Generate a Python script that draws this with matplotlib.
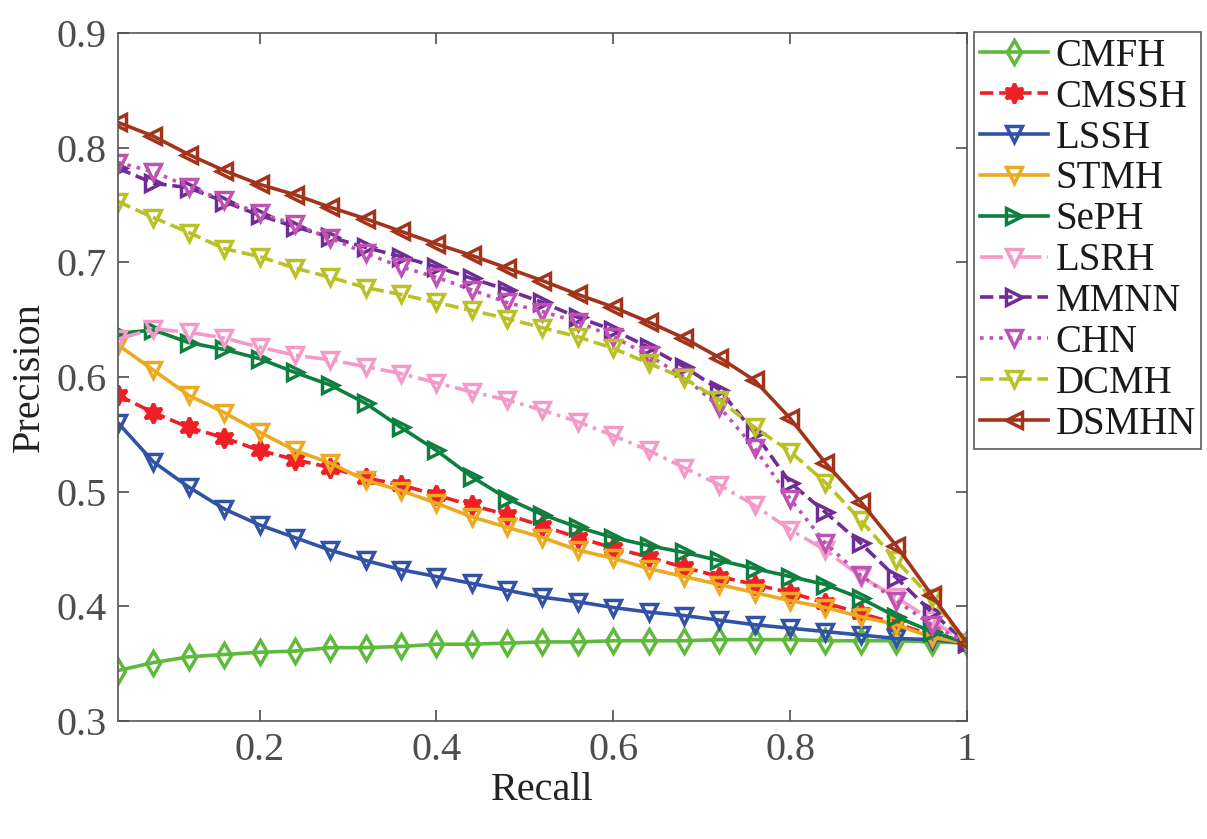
import matplotlib
matplotlib.use("Agg")
import matplotlib.pyplot as plt

recall = [0.04, 0.08, 0.12, 0.16, 0.20, 0.24, 0.28, 0.32, 0.36, 0.40, 0.44, 0.48, 0.52,
          0.56, 0.60, 0.64, 0.68, 0.72, 0.76, 0.80, 0.84, 0.88, 0.92, 0.96, 1.00]

cmfh = [0.344, 0.351, 0.356, 0.358, 0.360, 0.361, 0.364, 0.364, 0.365, 0.367, 0.367, 0.368, 0.369,
        0.369, 0.370, 0.370, 0.370, 0.371, 0.371, 0.371, 0.370, 0.370, 0.370, 0.369, 0.368]
cmssh = [0.584, 0.569, 0.556, 0.547, 0.536, 0.528, 0.521, 0.512, 0.506, 0.497, 0.488, 0.480, 0.470,
         0.460, 0.451, 0.443, 0.434, 0.426, 0.419, 0.412, 0.403, 0.394, 0.385, 0.375, 0.368]
lssh = [0.560, 0.526, 0.504, 0.485, 0.471, 0.460, 0.449, 0.440, 0.432, 0.426, 0.420, 0.414, 0.408,
        0.404, 0.399, 0.395, 0.392, 0.388, 0.384, 0.381, 0.378, 0.375, 0.372, 0.371, 0.368]
stmh = [0.628, 0.606, 0.584, 0.569, 0.552, 0.536, 0.525, 0.510, 0.501, 0.490, 0.478, 0.469, 0.460,
        0.449, 0.442, 0.433, 0.426, 0.419, 0.412, 0.405, 0.399, 0.391, 0.384, 0.373, 0.368]
seph = [0.638, 0.641, 0.630, 0.624, 0.616, 0.604, 0.593, 0.577, 0.556, 0.536, 0.513, 0.494, 0.480,
        0.469, 0.460, 0.453, 0.447, 0.440, 0.433, 0.426, 0.419, 0.407, 0.391, 0.378, 0.368]
lsrh = [0.633, 0.642, 0.639, 0.634, 0.626, 0.619, 0.615, 0.609, 0.603, 0.595, 0.587, 0.580, 0.571,
        0.561, 0.549, 0.536, 0.521, 0.506, 0.488, 0.467, 0.449, 0.426, 0.408, 0.388, 0.368]
mmnn = [0.782, 0.769, 0.765, 0.753, 0.741, 0.731, 0.722, 0.713, 0.705, 0.696, 0.686, 0.676, 0.665,
        0.652, 0.641, 0.626, 0.609, 0.589, 0.551, 0.508, 0.482, 0.455, 0.425, 0.395, 0.368]
chn = [0.787, 0.779, 0.766, 0.754, 0.743, 0.733, 0.721, 0.708, 0.696, 0.687, 0.676, 0.665, 0.657,
       0.648, 0.635, 0.619, 0.600, 0.574, 0.538, 0.494, 0.455, 0.427, 0.405, 0.384, 0.368]
dcmh = [0.753, 0.739, 0.726, 0.712, 0.705, 0.695, 0.687, 0.678, 0.672, 0.665, 0.658, 0.651, 0.643,
        0.635, 0.625, 0.612, 0.599, 0.580, 0.556, 0.535, 0.508, 0.475, 0.440, 0.407, 0.368]
dsmhn = [0.822, 0.810, 0.794, 0.780, 0.768, 0.759, 0.748, 0.738, 0.727, 0.716, 0.706, 0.695, 0.684,
         0.672, 0.661, 0.648, 0.634, 0.617, 0.597, 0.564, 0.525, 0.491, 0.453, 0.410, 0.368]

names = ["CMFH", "CMSSH", "LSSH", "STMH", "SePH", "LSRH", "MMNN", "CHN", "DCMH", "DSMHN"]
series = [cmfh, cmssh, lssh, stmh, seph, lsrh, mmnn, chn, dcmh, dsmhn]
colors = ["#5fba3c", "#ee2026", "#3253a4", "#eda922", "#0d7f3f", "#f39bc8",
          "#702c96", "#bf52b2", "#b9c126", "#a3341c"]
styles = ["-", "--", "-", "-", "-", "-.", "--", ":", "--", "-"]
markers = ["d", (6, 1, 0), "v", "v", ">", "v", ">", "v", "v", "<"]

ytick_vals = [0.3, 0.4, 0.5, 0.6, 0.7, 0.8, 0.9]
xtick_vals = [0.2, 0.4, 0.6, 0.8, 1.0]
xtick_labels = ["0.2", "0.4", "0.6", "0.8", "1"]

plt.rcParams["font.family"] = ["Liberation Serif", "DejaVu Serif"]

fig = plt.figure(figsize=(12.07, 8.39), dpi=100)
ax = fig.add_axes([0.0978, 0.1406, 0.7033, 0.8201])

for name, ys, c, ls, mk in zip(names, series, colors, styles, markers):
    filled = mk == (6, 1, 0)
    ax.plot(recall, ys, linestyle=ls, color=c, linewidth=2.6,
            marker=mk, markersize=12 if not filled else 14,
            markerfacecolor=c if filled else "none",
            markeredgecolor=c, markeredgewidth=2.5, label=name)

ax.set_xlim(0.04, 1.0)
ax.set_ylim(0.3, 0.9)
ax.set_xticks(xtick_vals)
ax.set_xticklabels(xtick_labels)
ax.set_yticks(ytick_vals)
ax.set_yticklabels([f"{v:.1f}" for v in ytick_vals])

ax.tick_params(direction="in", top=True, right=True, length=8, width=1.2,
               labelsize=29, colors="#4d4d4d", pad=8)
for tl in ax.get_xticklabels() + ax.get_yticklabels():
    tl.set_color("#4d4d4d")
for sp in ax.spines.values():
    sp.set_color("#555555")
    sp.set_linewidth(1.2)

ax.set_xlabel("Recall", fontsize=29, color="#222222", labelpad=2)
ax.set_ylabel("Precision", fontsize=29, color="#222222", labelpad=6)

leg = ax.legend(loc="upper left", bbox_to_anchor=(1.008, 1.0015), fontsize=28,
                frameon=True, fancybox=False, edgecolor="#333333",
                handlelength=1.75, handletextpad=0.2, labelspacing=0.1,
                borderpad=0.15, borderaxespad=0)
leg.get_frame().set_linewidth(1.2)
for t in leg.get_texts():
    t.set_color("#1a1a1a")

fig.savefig("out.png", dpi=100)
